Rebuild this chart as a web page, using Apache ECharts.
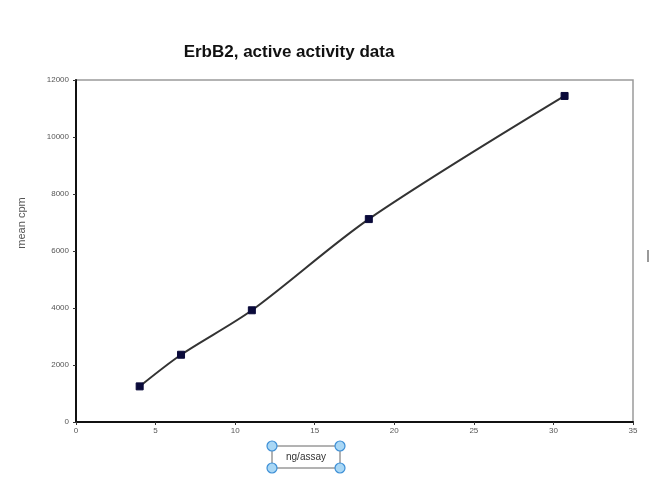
<!DOCTYPE html>
<html>
<head>
<meta charset="utf-8">
<script src="https://cdn.jsdelivr.net/npm/echarts@6/dist/echarts.min.js"></script>
<style>html,body{margin:0;padding:0;background:#fff}#c{width:650px;height:494px}</style>
</head>
<body>
<div id="c"></div>
<script>
const titleText = "ErbB2, active activity data";
const xName = "ng/assay";
const yName = "mean cpm";
const ngPerAssay = [4.0, 6.6, 11.05, 18.4, 30.7];
const meanCpm = [1250, 2360, 3920, 7120, 11440];
const xTicks = [0, 5, 10, 15, 20, 25, 30, 35];
const yTicks = [0, 2000, 4000, 6000, 8000, 10000, 12000];

const chart = echarts.init(document.getElementById('c'), null, {renderer: 'canvas'});
const font = 'Arial, "Liberation Sans", sans-serif';
const handle = (x, y) => ({type: 'circle', shape: {cx: x, cy: y, r: 5}, style: {fill: '#a9d7f5', stroke: '#3d8fd6', lineWidth: 1.2}, z: 10});
chart.setOption({
  animation: false,
  backgroundColor: '#fff',
  title: {
    text: titleText, left: 284, top: 39, textAlign: 'center',
    textStyle: {fontFamily: font, fontSize: 17, fontWeight: 'bold', color: '#111'}
  },
  grid: {left: 76, right: 17, top: 80, bottom: 72, show: true, borderColor: '#9a9a9a', borderWidth: 1.5},
  xAxis: {
    type: 'value', min: xTicks[0], max: xTicks[xTicks.length - 1], interval: 5,
    axisLine: {onZero: false, lineStyle: {color: '#111', width: 2}},
    axisTick: {show: true, length: 3, lineStyle: {color: '#333'}},
    axisLabel: {fontFamily: font, fontSize: 8, color: '#555', margin: 5},
    splitLine: {show: false}
  },
  yAxis: {
    type: 'value', min: yTicks[0], max: yTicks[yTicks.length - 1], interval: 2000,
    axisLine: {onZero: false, lineStyle: {color: '#111', width: 2}},
    axisTick: {show: true, length: 3, lineStyle: {color: '#333'}},
    axisLabel: {fontFamily: font, fontSize: 8, color: '#555', margin: 7, formatter: v => String(v)},
    splitLine: {show: false}
  },
  series: [{
    type: 'line',
    data: ngPerAssay.map((x, i) => [x, meanCpm[i]]),
    smooth: 0.3,
    symbol: 'rect', symbolSize: 7,
    itemStyle: {color: '#0a0a3a', borderColor: '#0a0a3a'},
    lineStyle: {color: '#333', width: 2}
  }],
  graphic: [
    {type: 'text', x: 22, y: 223, rotation: Math.PI / 2, style: {text: yName, fontFamily: font, fontSize: 11, fill: '#555', align: 'center', verticalAlign: 'middle'}},
    {type: 'rect', shape: {x: 272, y: 446, width: 68, height: 22}, style: {fill: '#fff', stroke: '#666', lineWidth: 1}, z: 9},
    {type: 'text', x: 306, y: 457, style: {text: xName, fontFamily: font, fontSize: 10, fill: '#333', align: 'center', verticalAlign: 'middle'}, z: 11},
    handle(272, 446), handle(340, 446), handle(272, 468), handle(340, 468),
    {type: 'rect', shape: {x: 647, y: 250, width: 2, height: 12}, style: {fill: '#999'}}
  ]
});
</script>
</body>
</html>
